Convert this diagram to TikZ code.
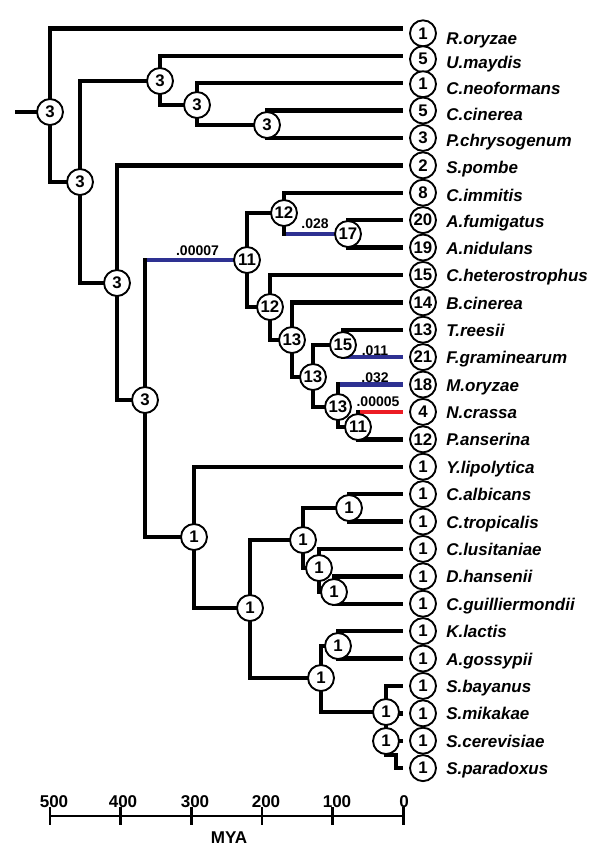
\documentclass[tikz,border=0pt]{standalone}
\usepackage{fontspec}
\setmainfont{Liberation Sans}
\usetikzlibrary{backgrounds}
\definecolor{brblue}{RGB}{46,49,146}
\definecolor{brred}{RGB}{236,28,36}
\begin{document}
\begin{tikzpicture}[x=0.75pt,y=-0.75pt,
  br/.style={line width=3.3pt},
  nd/.style={circle,draw,line width=1.4pt,fill=white,minimum size=19.5pt,inner sep=0pt,
    font=\bfseries\fontsize{12.6}{12.6}\selectfont},
  tipname/.style={anchor=base west,inner sep=0pt,font=\bfseries\itshape\fontsize{12.75}{14}\selectfont},
  blab/.style={anchor=base,inner sep=0pt,font=\bfseries\fontsize{10.5}{10.5}\selectfont},
  axlab/.style={anchor=base,inner sep=0pt,font=\bfseries\fontsize{12.8}{12.8}\selectfont}]
\useasboundingbox (0,0) rectangle (600,858);

% tips
\foreach \i/\ly/\cy/\tb/\n/\nm in {
  0/28.3/33.3/44.1/1/R.oryzae,
  1/55.7/59.2/68.6/5/U.maydis,
  2/83.1/84.2/94.1/1/C.neoformans,
  3/110.5/110.5/120.6/5/C.cinerea,
  4/137.9/137.9/146.1/3/P.chrysogenum,
  5/165.3/165.3/173.6/2/S.pombe,
  6/192.7/192.7/201.1/8/C.immitis,
  7/220.1/220.1/227.6/20/A.fumigatus,
  8/247.5/247.5/254.6/19/A.nidulans,
  9/274.9/274.9/281.6/15/C.heterostrophus,
  10/302.3/302.3/309.1/14/B.cinerea,
  11/329.7/329.7/336.3/13/T.reesii,
  12/357.1/357.1/363.7/21/F.graminearum,
  13/384.5/384.5/391.1/18/M.oryzae,
  14/411.9/411.9/418.5/4/N.crassa,
  15/439.3/439.3/445.9/12/P.anserina,
  16/466.7/466.7/473.3/1/Y.lipolytica,
  17/494.1/494.1/500.7/1/C.albicans,
  18/521.5/521.5/528.1/1/C.tropicalis,
  19/548.9/548.9/555.5/1/C.lusitaniae,
  20/576.3/576.3/582.9/1/D.hansenii,
  21/603.7/603.7/610.3/1/C.guilliermondii,
  22/631.1/631.1/637.7/1/K.lactis,
  23/658.5/658.5/665.1/1/A.gossypii,
  24/685.9/685.9/692.5/1/S.bayanus,
  25/713.3/713.3/719.9/1/S.mikakae,
  26/740.7/740.7/747.3/1/S.cerevisiae,
  27/768.1/768.1/774.7/1/S.paradoxus}{
  \coordinate (e\i) at (403,\ly);
  \node[nd] (t\i) at (423,\cy) {\n};
  \node[tipname] (l\i) at (446,\tb) {\nm};
}

% internal nodes
\coordinate (s0) at (15,112);
\node[nd] (root) at (50,112) {3};
\node[nd] (nA) at (80,182) {3};
\node[nd] (nC) at (160,81) {3};
\node[nd] (nD) at (197,105) {3};
\node[nd] (nE) at (267,125) {3};
\node[nd] (nB) at (117,283) {3};
\node[nd] (nF) at (145,400) {3};
\node[nd] (nG) at (247,260) {11};
\node[nd] (nH) at (284,213) {12};
\node[nd] (nI) at (348,234) {17};
\node[nd] (nJ) at (270,307) {12};
\node[nd] (nK) at (292,340) {13};
\node[nd] (nL) at (313,377) {13};
\node[nd] (nM) at (343,345) {15};
\node[nd] (nN) at (338,407) {13};
\node[nd] (nO) at (358,427) {11};
\node[nd] (nY) at (194,537) {1};
\node[nd] (nZ) at (250,608) {1};
\node[nd] (nCa) at (303,540) {1};
\node[nd] (nAl) at (349,508) {1};
\node[nd] (nLu) at (319,568) {1};
\node[nd] (nDh) at (334,592) {1};
\node[nd] (nSac) at (321,678) {1};
\node[nd] (nKl) at (338,646) {1};
\node[nd] (nSb) at (386,712) {1};
\node[nd] (nSc) at (386,741) {1};
\coordinate (k1) at (396,755);

% branch labels
\node[blab] (b1) at (197.5,255.5) {.00007};
\node[blab] (b2) at (315,228.5) {.028};
\node[blab] (b3) at (375,355) {.011};
\node[blab] (b4) at (375,382) {.032};
\node[blab] (b5) at (378,406) {.00005};

\begin{scope}[on background layer]
\fill[white] (0,0) rectangle (600,858);
\draw[br] (s0) -- (root.center);
\draw[br] (root.center) |- (e0);
\draw[br] (root.center) |- (nA.center);
\draw[br] (nA.center) |- (nC.center);
\draw[br] (nA.center) |- (nB.center);
\draw[br] (nC.center) |- (e1);
\draw[br] (nC.center) |- (nD.center);
\draw[br] (nD.center) |- (e2);
\draw[br] (nD.center) |- (nE.center);
\draw[br] (nE.center) |- (e3);
\draw[br] (nE.center) |- (e4);
\draw[br] (nB.center) |- (e5);
\draw[br] (nB.center) |- (nF.center);
\draw[br,draw=brblue] (nF.center |- nG.center) -- (nG.center);
\draw[br,line cap=rect] (nF.center) -- (nF.center |- nG.center);
\draw[br] (nF.center) |- (nY.center);
\draw[br] (nG.center) |- (nH.center);
\draw[br] (nG.center) |- (nJ.center);
\draw[br] (nH.center) |- (e6);
\draw[br,draw=brblue] (nH.center |- nI.center) -- (nI.center);
\draw[br,line cap=rect] (nH.center) -- (nH.center |- nI.center);
\draw[br] (nI.center) |- (e7);
\draw[br] (nI.center) |- (e8);
\draw[br] (nJ.center) |- (e9);
\draw[br] (nJ.center) |- (nK.center);
\draw[br] (nK.center) |- (e10);
\draw[br] (nK.center) |- (nL.center);
\draw[br] (nL.center) |- (nM.center);
\draw[br] (nL.center) |- (nN.center);
\draw[br] (nM.center) |- (e11);
\draw[br,draw=brblue] (nM.center |- e12) -- (e12);
\draw[br,line cap=rect] (nM.center) -- (nM.center |- e12);
\draw[br,draw=brblue] (nN.center |- e13) -- (e13);
\draw[br,line cap=rect] (nN.center) -- (nN.center |- e13);
\draw[br] (nN.center) |- (nO.center);
\draw[br,draw=brred] (nO.center |- e14) -- (e14);
\draw[br,line cap=rect] (nO.center) -- (nO.center |- e14);
\draw[br] (nO.center) |- (e15);
\draw[br] (nY.center) |- (e16);
\draw[br] (nY.center) |- (nZ.center);
\draw[br] (nZ.center) |- (nCa.center);
\draw[br] (nZ.center) |- (nSac.center);
\draw[br] (nCa.center) |- (nAl.center);
\draw[br] (nCa.center) |- (nLu.center);
\draw[br] (nAl.center) |- (e17);
\draw[br] (nAl.center) |- (e18);
\draw[br] (nLu.center) |- (e19);
\draw[br] (nLu.center) |- (nDh.center);
\draw[br] (nDh.center) |- (e20);
\draw[br] (nDh.center) |- (e21);
\draw[br] (nSac.center) |- (nKl.center);
\draw[br] (nSac.center) |- (nSb.center);
\draw[br] (nKl.center) |- (e22);
\draw[br] (nKl.center) |- (e23);
\draw[br] (nSb.center) |- (e24);
\draw[br] (nSb.center) |- (e25);
\draw[br] (nSb.center) -- (nSc.center);
\draw[br] (nSc.center) |- (e26);
\draw[br] (nSc.center) |- (k1) |- (e27);
\end{scope}

% axis
\draw[line width=2.2pt] (50,816) -- (403.3,816);
\foreach \x/\lx/\t in {50/54/500,120.7/123/400,191.3/195/300,262/266/200,332.7/337/100,403.3/404/0}{
  \draw[line width=2pt] (\x,807) -- (\x,825);
  \node[axlab] at (\lx,807) {\t};
}
\node[axlab] (mya) at (229,843) {MYA};
\end{tikzpicture}
\end{document}
